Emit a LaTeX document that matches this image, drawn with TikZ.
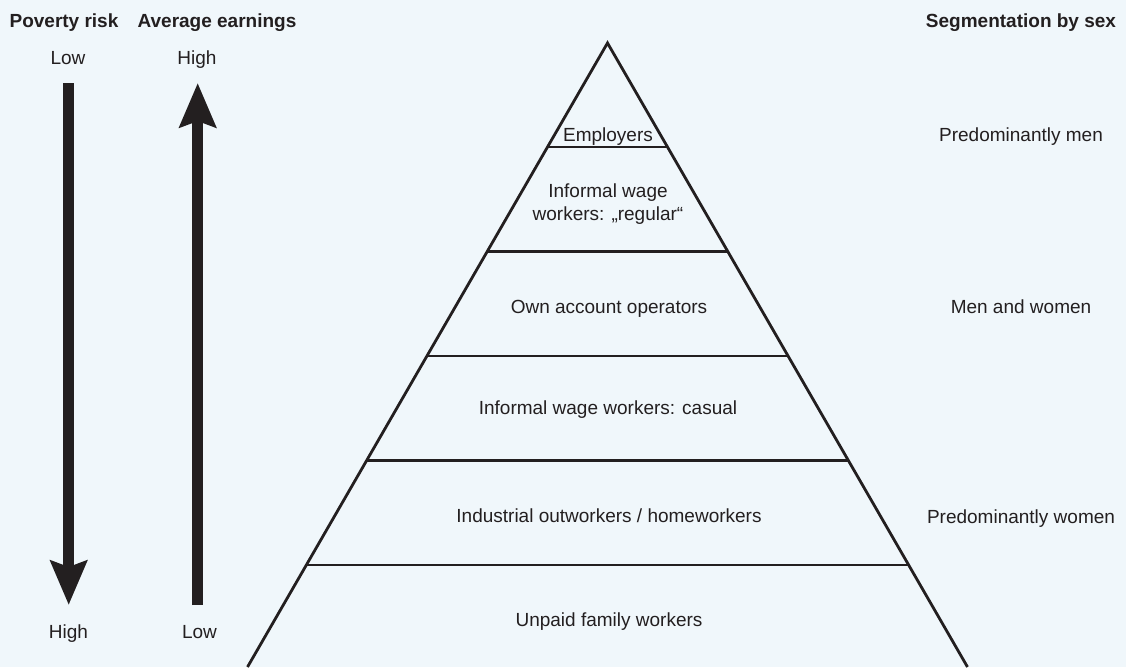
\documentclass[tikz,border=0pt]{standalone}
\usepackage{fontspec}
\setmainfont{Liberation Sans}
\usetikzlibrary{arrows.meta}
\definecolor{ink}{RGB}{35,31,32}
\definecolor{paper}{RGB}{240,247,251}
\begin{document}
\begin{tikzpicture}[x=1pt,y=-1pt,
  label/.style={anchor=base,inner sep=0pt,text=ink,font=\fontsize{19}{23}\selectfont,align=center},
  head/.style={label,font=\fontsize{19}{23}\selectfont\bfseries},
  rung/.style={draw=ink,line width=2.8pt},
  bigarrow/.style={draw=ink,line width=11pt,-{Stealth[length=44pt,width=36pt,inset=6pt]}}]
\fill[paper] (0,0) rectangle (1126,667);
\useasboundingbox (0,0) rectangle (1126,667);

% headings
\node[head] (povhead) at (64,27) {Poverty risk};
\node[head] (earnhead) at (217,27) {Average earnings};
\node[head] (sexhead) at (1021,27) {Segmentation by sex};

% left scales
\node[label] (povlow) at (68,64) {Low};
\node[label] (earnhigh) at (197,64) {High};
\node[label] (povhigh) at (68.5,638) {High};
\node[label] (earnlow) at (199.5,638) {Low};
\coordinate (povtop) at (68.7,83);
\coordinate (povtip) at (68.7,605);
\coordinate (earnbot) at (197.7,605);
\coordinate (earntip) at (197.7,83);
\path[bigarrow] (povtop) -- (povtip);
\path[bigarrow] (earnbot) -- (earntip);

% pyramid
\coordinate (apex) at (607.5,43);
\coordinate (bl) at (247.5,667);
\coordinate (br) at (967.5,667);
\path[draw=ink,line width=2.8pt,line join=miter] (bl) -- (apex) -- (br);
\foreach \y in {147,251.5,356,460.5,565}
  \path[rung] ({607.5-0.577*(\y-43)},\y) -- ({607.5+0.577*(\y-43)},\y);

\node[label] (employers) at (608,141) {Employers};
\node[label] (regular) at (608,220) {Informal wage\\workers: „regular“};
\node[label] (ownacc) at (609,313) {Own account operators};
\node[label] (casual) at (608,414) {Informal wage workers: casual};
\node[label] (outwork) at (609,522) {Industrial outworkers / homeworkers};
\node[label] (unpaid) at (609,626) {Unpaid family workers};

% right column
\node[label] (predmen) at (1021,141) {Predominantly men};
\node[label] (menwomen) at (1021,313) {Men and women};
\node[label] (predwomen) at (1021,523) {Predominantly women};
\end{tikzpicture}
\end{document}
